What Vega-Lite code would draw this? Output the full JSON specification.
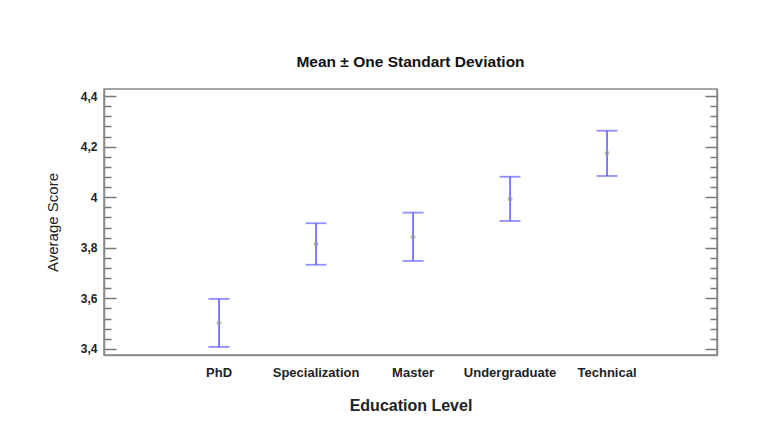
{
  "$schema": "https://vega.github.io/schema/vega-lite/v6.json",
  "width": 613,
  "height": 266,
  "autosize": {"type": "none"},
  "padding": {"left": 104, "top": 89, "right": 60, "bottom": 77},
  "background": "white",
  "title": {"text": "Mean ± One Standart Deviation", "font": "Liberation Sans", "fontSize": 15.5, "fontWeight": "bold", "color": "#111", "offset": 19},
  "config": {
    "view": {"stroke": "#888", "strokeWidth": 1.5},
    "font": "Liberation Sans"
  },
  "data": {"values": [
    {"level": "PhD", "mean": 3.503, "lo": 3.408, "hi": 3.598},
    {"level": "Specialization", "mean": 3.815, "lo": 3.733, "hi": 3.897},
    {"level": "Master", "mean": 3.843, "lo": 3.748, "hi": 3.939},
    {"level": "Undergraduate", "mean": 3.993, "lo": 3.906, "hi": 4.081},
    {"level": "Technical", "mean": 4.174, "lo": 4.084, "hi": 4.263}
  ]},
  "encoding": {
    "x": {"field": "level", "type": "nominal", "sort": null, "bandPosition": 0.5,
      "scale": {"type": "band", "paddingInner": 0, "paddingOuter": 0.66, "align": 0.52},
      "axis": {"title": "Education Level", "titleFont": "Liberation Sans", "titleFontSize": 16, "titleFontWeight": "bold", "titleColor": "#222", "titlePadding": 18,
        "labelFont": "Liberation Sans", "labelFontSize": 13, "labelFontWeight": "bold", "labelColor": "#222", "labelAngle": 0, "labelPadding": 11,
        "ticks": false, "domainColor": "#888", "domainWidth": 1.5}}
  },
  "layer": [
    {
      "layer": [
        {
          "mark": {"type": "rule", "color": "#6060ff", "strokeWidth": 1.6},
          "encoding": {
            "y": {"field": "lo", "type": "quantitative",
              "scale": {"domain": [3.376, 4.428], "nice": false, "zero": false},
              "axis": null},
            "y2": {"field": "hi"}
          }
        },
        {
          "mark": {"type": "tick", "color": "#6060ff", "size": 21, "thickness": 1.8, "orient": "horizontal"},
          "encoding": {"y": {"field": "lo", "type": "quantitative", "axis": null}}
        },
        {
          "mark": {"type": "tick", "color": "#6060ff", "size": 21, "thickness": 1.8, "orient": "horizontal"},
          "encoding": {"y": {"field": "hi", "type": "quantitative", "axis": null}}
        },
        {
          "mark": {"type": "point", "shape": "circle", "filled": false, "color": "#a8a870", "size": 14, "strokeWidth": 1.2},
          "encoding": {"y": {"field": "mean", "type": "quantitative", "axis": null}}
        }
      ]
    },
    {
      "mark": {"type": "point", "opacity": 0},
      "encoding": {
        "y": {"field": "mean", "type": "quantitative",
          "scale": {"domain": [3.376, 4.428], "nice": false, "zero": false},
          "axis": {"orient": "left", "title": "Average Score", "titleFont": "Liberation Sans", "titleFontSize": 15, "titleFontWeight": "normal", "titleColor": "#222", "titlePadding": 20,
            "values": [3.4, 3.44, 3.48, 3.52, 3.56, 3.6, 3.64, 3.68, 3.72, 3.76, 3.8, 3.84, 3.88, 3.92, 3.96, 4.0, 4.04, 4.08, 4.12, 4.16, 4.2, 4.24, 4.28, 4.32, 4.36, 4.4],
            "labelExpr": "abs(datum.value*5-round(datum.value*5))<0.001 ? replace(toString(round(datum.value*10)/10),'.',',') : ''",
            "labelOverlap": false, "labelBound": false,
            "labelFont": "Liberation Sans", "labelFontSize": 12, "labelFontWeight": "bold", "labelColor": "#222", "labelPadding": 19,
            "tickSize": {"condition": {"test": "abs(datum.value*5-round(datum.value*5))<0.001", "value": -12}, "value": -7},
            "tickColor": "#777", "tickWidth": 1.5, "domainColor": "#888", "domainWidth": 1.5, "grid": false}}
      }
    },
    {
      "mark": {"type": "point", "opacity": 0},
      "encoding": {
        "y": {"field": "mean", "type": "quantitative",
          "scale": {"domain": [3.376, 4.428], "nice": false, "zero": false},
          "axis": {"orient": "right", "title": null, "labels": false,
            "values": [3.4, 3.44, 3.48, 3.52, 3.56, 3.6, 3.64, 3.68, 3.72, 3.76, 3.8, 3.84, 3.88, 3.92, 3.96, 4.0, 4.04, 4.08, 4.12, 4.16, 4.2, 4.24, 4.28, 4.32, 4.36, 4.4],
            "tickSize": {"condition": {"test": "abs(datum.value*5-round(datum.value*5))<0.001", "value": -12}, "value": -7},
            "tickColor": "#777", "tickWidth": 1.5, "domainColor": "#888", "domainWidth": 1.5, "grid": false}}
      }
    }
  ],
  "resolve": {"scale": {"y": "independent"}}
}
